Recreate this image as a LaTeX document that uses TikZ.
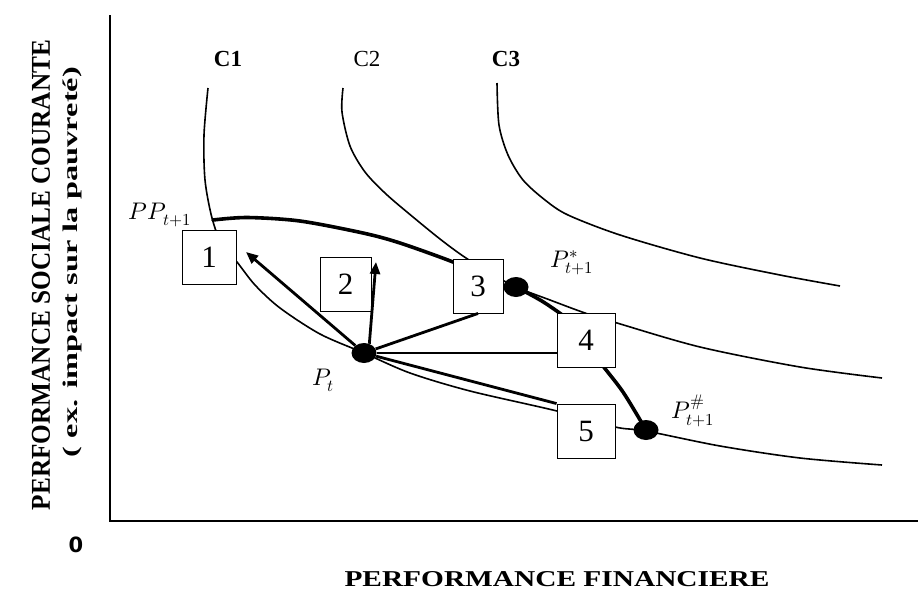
\documentclass[tikz,border=0pt]{standalone}
\usepackage{fontspec}
\usepackage{unicode-math}
\setmainfont{Liberation Serif}
\setmathfont{Latin Modern Math}
\newfontfamily\zerofont{DejaVu Sans}
\usetikzlibrary{arrows.meta,shapes.geometric,backgrounds}
\begin{document}
\begin{tikzpicture}[x=1pt,y=-1pt,
  axis/.style={line width=1.3pt},
  curve/.style={line width=1.6pt},
  heavy/.style={line width=3.6pt, line cap=round, line join=round},
  link/.style={line width=2.8pt},
  numbox/.style={draw, line width=0.9pt, fill=white, minimum height=54pt, inner sep=0pt,
                 font=\fontsize{31}{32}\selectfont},
  dot/.style={ellipse, fill=black, minimum width=25pt, minimum height=20pt, inner sep=0pt},
  lab/.style={font=\fontsize{23}{25}\selectfont},
  mlab/.style={font=\fontsize{24}{26}\selectfont, inner sep=1pt},
  tip/.style={-{Triangle[length=12pt,width=10pt]}}]
\useasboundingbox (0,0) rectangle (921,590);

% axes
\coordinate (ytop) at (110,15);
\coordinate (origin) at (110,521);
\coordinate (xend) at (918,521);
\draw[axis] (ytop) -- (origin) -- (xend);

% axis labels
\node[rotate=90] (ylab1) at (41,275) {\resizebox{470pt}{18pt}{\bfseries PERFORMANCE SOCIALE COURANTE}};
\node[rotate=90] (ylab2) at (72,262) {\resizebox*{390pt}{19pt}{\bfseries ( ex. impact sur la pauvreté)}};
\node (xlab) at (557,579) {\resizebox{425pt}{15pt}{\bfseries PERFORMANCE FINANCIERE}};
\node (zero) at (76,545) {\zerofont\bfseries\fontsize{21}{22}\selectfont 0};

% curve labels
\node[lab] (c1) at (228,59) {\bfseries C1};
\node[lab] (c2) at (367,59) {C2};
\node[lab] (c3) at (506,59) {\bfseries C3};

% indifference curves
\draw[curve] plot[smooth] coordinates {(208,88) (204,135) (205,180) (212,218) (222,245) (237,262)
  (255,285) (280,308) (320,334) (364,353) (410,373) (470,391) (557,411) (615,427) (646,431) (720,446) (800,458) (882,465)};
\draw[curve] plot[smooth] coordinates {(343,88) (342,112) (350,146) (365,172) (386,194) (413,217)
  (440,239) (463,256) (490,273) (516,287) (550,300) (585,313) (617,323) (700,347) (800,367) (882,378)};
\draw[curve] plot[smooth] coordinates {(497,83) (499,125) (508,155) (523,180) (545,200) (568,215)
  (620,235) (700,258) (780,275) (840,286)};

% boxes
\node[numbox, minimum width=54pt] (b1) at (209,257) {1};
\node[numbox, minimum width=51pt] (b2) at (345.5,284) {2};
\node[numbox, minimum width=50pt] (b3) at (478,286) {3};
\node[numbox, minimum width=58pt] (b4) at (586,340) {4};
\node[numbox, minimum width=58pt] (b5) at (586,431) {5};

% points
\node[dot] (pt) at (364,353) {};
\node[dot] (pstar) at (516,287) {};
\node[dot] (phash) at (646,430) {};
\coordinate (pp) at (213,220);
\coordinate (a1) at (246,252);
\coordinate (a2) at (376,262);

% point labels
\node[mlab] (lpp) at (160,215) {$PP_{t+1}$};
\node[mlab] (lpt) at (323,380) {$P_{t}$};
\node[mlab] (lps) at (572,263) {$P^{*}_{t+1}$};
\node[mlab] (lph) at (693,411) {$P^{\#}_{t+1}$};

% connectors behind boxes
\begin{scope}[on background layer]
  \draw[heavy] plot[smooth] coordinates {(pp) (247,217.5) (300,221) (363,233) (400,243) (453,262) (478,274)};
  \draw[heavy] (b3.center) -- (pstar.center);
  \draw[heavy] plot[smooth] coordinates {(516,287) (545,303) (575,326) (600,362) (623,392) (646,430)};
\end{scope}

% arrows and links from P_t
\draw[link, tip] (pt) -- (a1);
\draw[link, tip] (pt.60) -- (a2);
\draw[link] (pt) -- (b3.south);
\draw[link] (pt) -- (pt -| b4.west);
\draw[link] (pt) -- (b5.north west);
\end{tikzpicture}
\end{document}
